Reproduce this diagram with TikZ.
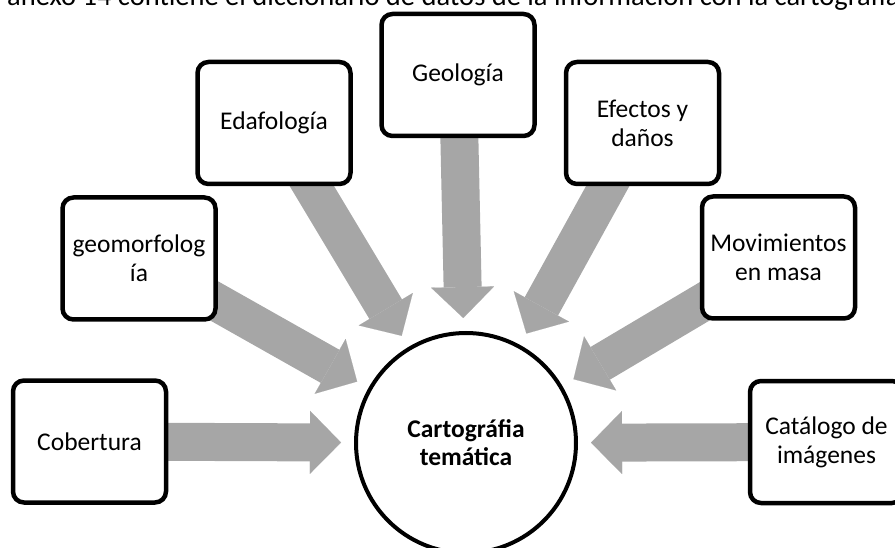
\documentclass[tikz,border=0pt]{standalone}
\usepackage{fontspec}
\setmainfont{Carlito}
\usetikzlibrary{arrows.meta,backgrounds}
\definecolor{flechagris}{RGB}{166,166,166}

\begin{document}
\begin{tikzpicture}
	[x=1pt,y=-1pt,font=\fontsize{25.5}{29}\selectfont,
	caja/.style={draw, line width=4.5pt, rounded corners=11pt, fill=white, minimum width=153pt, minimum height=122pt, inner sep=2pt, align=center},
	flecha/.style={draw=flechagris, line width=38pt, shorten >=13pt, -{Triangle[length=31pt 0 0, width=63pt 0 0, line width=0.1pt]}}]
	\useasboundingbox (0,0) rectangle (895,548);
	\node (txt) [anchor=base west, inner sep=0pt, font=\fontsize{28.5}{34}\selectfont] at (7,5.5) {anexo 14 contiene el diccionario de datos de la información con la cartografía};
	
	\node (c) [circle, draw, line width=4pt, minimum size=220pt, inner sep=0pt, fill=white, align=center, font=\fontsize{25.5}{28}\selectfont\bfseries] at (466,443) {Cartográfia\\temática};
	\node (n1) [caja] at (89.5,441.5) {Cobertura};
	\node (n2) [caja] at (139,258.5) {geomorfolog\\ía};
	\node (n3) [caja] at (274,123) {Edafología};
	\node (n4) [caja] at (458,75) {Geología};
	\node (n5) [caja] at (642.5,123) {Efectos y\\daños};
	\node (n6) [caja] at (778.5,257.5) {Movimientos\\en masa};
	\node (n7) [caja] at (826.5,442) {Catálogo de\\imágenes};
	
	\begin{scope}[on background layer]
		\draw[flecha] (n1.center) -- (c);
		\draw[flecha] (n2.center) -- (c);
		\draw[flecha] (n3.center) -- (c);
		\draw[flecha] (n4.center) -- (c);
		\draw[flecha] (n5.center) -- (c);
		\draw[flecha] (n6.center) -- (c);
		\draw[flecha] (n7.center) -- (c);
	\end{scope}
\end{tikzpicture}
\end{document}
